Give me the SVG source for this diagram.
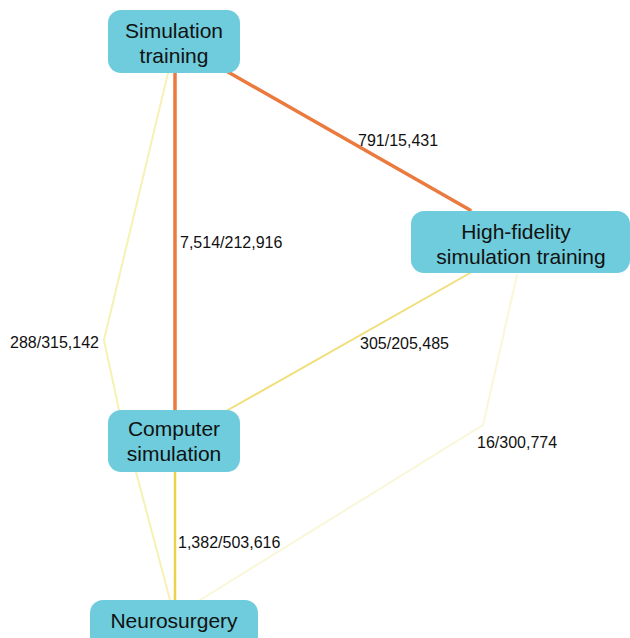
<svg xmlns="http://www.w3.org/2000/svg" width="630" height="638" viewBox="0 0 630 638">
<style>
.node rect{fill:#6ECCDC;}
.node text{font-family:"Liberation Sans",Arial,sans-serif;font-size:21px;fill:#111;text-anchor:middle;}
.lbl{font-family:"Liberation Sans",Arial,sans-serif;font-size:16px;fill:#111;}
.e{fill:none;stroke-linecap:round;stroke-linejoin:round;}
.strong{stroke:#EA7A3E;stroke-width:3.5;}
.mid{stroke:#F0DE78;stroke-width:2;}
.light{stroke:#F7F1B4;stroke-width:2;}
.faint{stroke:#FAF6D8;stroke-width:2;}
.cn{stroke:#EAD24A;stroke-width:2.5;}
</style>
<rect width="630" height="638" fill="#ffffff"/>
<g id="connectors">
  <polyline class="e light" points="168,73 104,340 119,410"/>
  <line class="e mid" x1="470" y1="273" x2="228" y2="410"/>
  <polyline class="e faint" points="517,275 483,425 200,600"/>
  <line class="e light" x1="136" y1="472" x2="170" y2="600"/>
  <line class="e cn" x1="175" y1="472" x2="175" y2="600"/>
  <line class="e strong" x1="175" y1="73" x2="175" y2="410"/>
  <line class="e strong" x1="228" y1="72" x2="470" y2="210"/>
  <text class="lbl" x="180" y="248">7,514/212,916</text>
  <text class="lbl" x="358" y="146">791/15,431</text>
  <text class="lbl" x="10" y="348">288/315,142</text>
  <text class="lbl" x="360" y="349">305/205,485</text>
  <text class="lbl" x="477" y="448">16/300,774</text>
  <text class="lbl" x="178" y="548">1,382/503,616</text>
</g>
<g id="node-simulation-training" class="node">
  <rect x="108" y="10" width="132" height="63" rx="13"/>
  <text x="174" y="38">Simulation</text>
  <text x="174" y="63">training</text>
</g>
<g id="node-high-fidelity" class="node">
  <rect x="411" y="211" width="219" height="62" rx="13"/>
  <text x="516" y="239">High-fidelity</text>
  <text x="521" y="264">simulation training</text>
</g>
<g id="node-computer-simulation" class="node">
  <rect x="108" y="410" width="132" height="62" rx="13"/>
  <text x="174" y="436">Computer</text>
  <text x="174" y="461">simulation</text>
</g>
<g id="node-neurosurgery" class="node">
  <rect x="90" y="600" width="168" height="50" rx="13"/>
  <text x="174" y="628">Neurosurgery</text>
</g>
</svg>
